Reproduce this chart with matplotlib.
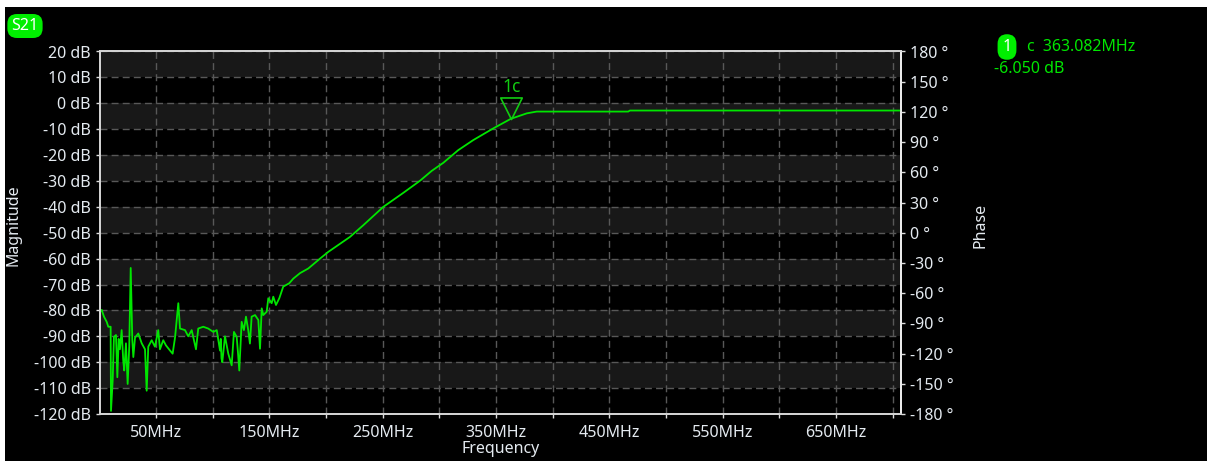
import matplotlib.pyplot as plt
from matplotlib.patches import Rectangle
from matplotlib.path import Path
import numpy as np

# S21 sweep (MHz, dB)
freq_mhz = [0.6, 2.1, 4.1, 6.5, 7.9, 10.0, 10.3, 11.8, 12.9, 14.7, 15.9, 17.1, 18.2,
            19.7, 21.1, 22.0, 23.5, 25.0, 26.4, 27.7, 29.1, 30.0, 31.5, 34.4, 37.4,
            40.3, 41.8, 43.2, 46.2, 49.1, 52.0, 53.5, 56.4, 58.8, 62.4, 64.7, 66.8,
            69.7, 71.2, 75.6, 78.5, 81.5, 85.3, 87.3, 91.7, 96.1, 100.6, 103.6,
            106.5, 107.2, 107.8, 108.5, 110.9, 113.8, 116.8, 118.8, 121.2, 122.3,
            123.5, 125.6, 127.6, 129.4, 131.4, 132.9, 134.4, 137.4, 140.3, 141.8,
            143.3, 144.7, 147.7, 149.1, 152.1, 153.5, 155.9, 158.8, 162.3, 167.6,
            171.2, 177.1, 184.4, 194.7, 202.0, 221.2, 232.9, 250.6, 268.2, 283.0,
            293.3, 303.5, 316.7, 330.0, 347.6, 363.1, 377.1, 385.9, 466.7, 468.2,
            707.4]
s21_db = [-80.5, -79.8, -82.4, -84.4, -86.3, -86.3, -118.8, -107.0, -90.2, -89.5,
          -105.8, -91.0, -95.0, -87.6, -99.3, -103.2, -92.7, -108.4, -94.0, -63.6,
          -91.5, -98.0, -90.5, -88.9, -92.7, -95.0, -111.0, -94.0, -91.5, -94.0,
          -87.6, -95.0, -91.5, -93.5, -95.5, -96.7, -90.5, -77.2, -87.0, -87.6,
          -90.0, -87.6, -95.0, -87.0, -86.3, -87.0, -88.3, -87.6, -95.5, -91.0,
          -98.5, -100.0, -90.0, -96.7, -101.2, -88.3, -90.2, -96.0, -103.2, -84.4,
          -87.6, -82.4, -87.6, -92.8, -82.4, -81.8, -83.7, -94.8, -79.2, -81.8,
          -80.5, -75.3, -77.2, -74.7, -77.9, -75.3, -70.8, -69.5, -67.7, -65.6,
          -63.8, -60.0, -57.4, -51.6, -47.1, -40.0, -34.6, -29.9, -26.1, -23.0,
          -18.1, -14.2, -9.7, -6.0, -3.9, -3.2, -3.2, -2.8, -2.8]

marker_freq = 363.082
marker_db = -6.050

db_ticks = list(range(20, -121, -10))
phase_ticks = list(range(-180, 181, 30))
freq_label_ticks = [50, 150, 250, 350, 450, 550, 650]
freq_grid_ticks = [100, 200, 300, 400, 500, 600, 700]

green = '#00e600'
txt = '#e4eaf0'
plt.rcParams['font.family'] = ['Noto Sans', 'DejaVu Sans']
plt.rcParams['font.size'] = 11.5

fig = plt.figure(figsize=(12.07, 4.61), dpi=100, facecolor='white')
fig.add_artist(Rectangle((5 / 1207, 0), 1, (461 - 7) / 461, transform=fig.transFigure,
                         facecolor='black', edgecolor='none', zorder=-10))

ax = fig.add_axes([100 / 1207, 47 / 461, 801 / 1207, 362.5 / 461])
ax.set_facecolor('black')
for top in range(20, -120, -20):
    ax.axhspan(top - 10, top, color='#181818', zorder=0, lw=0)

ax.plot(freq_mhz, s21_db, color=green, lw=1.3, zorder=3)

# marker triangle with apex on the trace
tri = Path([(-0.5, 1.0), (0.5, 1.0), (0.0, 0.0), (-0.5, 1.0)],
           [Path.MOVETO, Path.LINETO, Path.LINETO, Path.CLOSEPOLY])
ax.plot([marker_freq], [marker_db], marker=tri, markersize=31, markerfacecolor='none',
        markeredgecolor='#12cc12', markeredgewidth=1.2, zorder=4)
ax.annotate('1c', xy=(marker_freq, marker_db), xytext=(1, 32), textcoords='offset pixels',
            ha='center', va='center', color='#12cc12', fontsize=12.5)

ax.set_xlim(0.6, 707.4)
ax.set_ylim(-120, 20)
ax.set_yticks(db_ticks)
ax.set_yticklabels([f'{v} dB' for v in db_ticks])
ax.set_xticks(freq_label_ticks)
ax.set_xticklabels([f'{v}MHz' for v in freq_label_ticks])
ax.set_xticks(freq_grid_ticks, minor=True)
ax.grid(True, which='both', color='#585858', lw=1, linestyle=(0, (5, 3)), zorder=1)
ax.set_axisbelow(True)
ax.tick_params(which='both', colors='#dddddd', labelcolor=txt, length=3, width=1)
ax.tick_params(axis='x', pad=5)
ax.set_xlabel('Frequency', color=txt, labelpad=0)
ax.set_ylabel('Magnitude', color=txt)
ax.yaxis.set_label_coords(-0.098, 0.52)
for s in ax.spines.values():
    s.set_color('#d4d4d4')
    s.set_linewidth(1.3)

ax2 = ax.twinx()
ax2.set_ylim(-180, 180)
ax2.set_yticks(phase_ticks)
ax2.set_yticklabels([f'{v} °' for v in phase_ticks])
ax2.tick_params(colors='#dddddd', labelcolor=txt, length=3, width=1)
ax2.set_ylabel('Phase', color=txt)
ax2.yaxis.set_label_coords(1.089, 0.52)
for s in ax2.spines.values():
    s.set_color('#d4d4d4')
    s.set_linewidth(1.3)
ax2.spines['right'].set_color('#f0f0f0')

# trace badge and marker readout
fig.text(25 / 1207, 1 - 26 / 461, 'S21', color='white', ha='center', va='center',
         bbox=dict(boxstyle='round,pad=0.25,rounding_size=0.6', fc='#00ee00', ec='none'))
fig.text(1007 / 1207, 1 - 47 / 461, '1', color='white', ha='center', va='center',
         bbox=dict(boxstyle='round,pad=0.3,rounding_size=0.6', fc='#00ee00', ec='none'))
fig.text(1027 / 1207, 1 - 47 / 461, f'c  {marker_freq:.3f}MHz', color='#00e600',
         ha='left', va='center')
fig.text(994 / 1207, 1 - 69 / 461, f'{marker_db:.3f} dB', color='#00e600',
         ha='left', va='center')

fig.savefig('out.png', dpi=100, facecolor=fig.get_facecolor())
